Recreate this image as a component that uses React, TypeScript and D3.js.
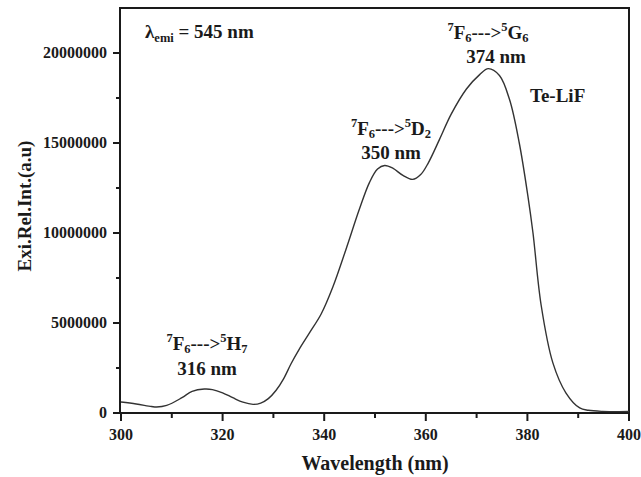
import React from "react";
import * as d3 from "d3";

// ---- data ----
const wavelength = [300, 303, 306, 307, 309, 312, 314, 316.4, 318, 320, 322, 324, 326, 327.5, 329, 330.5, 332, 333.5, 335.1, 337.1, 339.4, 341.7, 344.3, 346.9, 348.9, 350.5, 351.9, 353.5, 355.5, 357.4, 359, 360.5, 362.7, 365, 368, 370.6, 372.3, 374.5, 376.5, 378.4, 380.1, 381.1, 382.7, 385, 387.6, 390.3, 392, 394.8, 400];
const intensity = [0.61, 0.5, 0.36, 0.33, 0.42, 0.85, 1.2, 1.33, 1.3, 1.12, 0.85, 0.6, 0.48, 0.55, 0.8, 1.25, 1.9, 2.75, 3.55, 4.45, 5.5, 7.0, 9.1, 11.3, 12.8, 13.55, 13.75, 13.6, 13.2, 12.98, 13.25, 13.9, 15.2, 16.6, 18.0, 18.8, 19.13, 18.75, 17.4, 15.0, 12.05, 10.0, 6.0, 2.8, 1.11, 0.28, 0.15, 0.09, 0.08].map((v) => v * 1e6);

const xMajorTicks = [300, 320, 340, 360, 380, 400];
const xMinorTicks = [310, 330, 350, 370, 390];
const yMajorTicks = [0, 5000000, 10000000, 15000000, 20000000];
const yMinorTicks = [2500000, 7500000, 12500000, 17500000];

const peakLabels = ["316 nm", "350 nm", "374 nm"];
const upperLevels = [
  ["H", "7"],
  ["D", "2"],
  ["G", "6"],
];
const sampleName = "Te-LiF";
const xTitle = "Wavelength (nm)";
const yTitle = "Exi.Rel.Int.(a.u)";

// ---- layout ----
const W = 641;
const H = 477;
const L = 121;
const R = 629;
const T = 8;
const B = 413;
const FONT = "'Liberation Serif', 'Times New Roman', serif";
const INK = "#1a1a1a";

const annot = [
  { cx: 207, y1: 350, y2: 375 },
  { cx: 391, y1: 135, y2: 159 },
  { cx: 488, y1: 39, y2: 63, cx2: 496 },
];

export default function App() {
  const x = d3.scaleLinear().domain([300, 400]).range([L, R]);
  const y = d3.scaleLinear().domain([0, 22500000]).range([B, T]);
  const pts = wavelength.map((w, i) => [w, intensity[i]] as [number, number]);
  const line = d3
    .line<[number, number]>()
    .x((d) => x(d[0]))
    .y((d) => y(d[1]))
    .curve(d3.curveCatmullRom.alpha(0.5));

  const big = 19;
  const small = 12.5;

  return (
    <svg
      width={W}
      height={H}
      style={{ position: "absolute", left: 0, top: 0, background: "#fff" }}
      fontFamily={FONT}
      fontWeight="bold"
    >
      <rect x={0} y={0} width={W} height={H} fill="#fff" />
      {/* frame */}
      <line x1={L - 1} y1={T} x2={R + 1} y2={T} stroke={INK} strokeWidth={2} />
      <line x1={R} y1={T} x2={R} y2={B} stroke={INK} strokeWidth={2} />
      <line x1={L - 1} y1={T - 1} x2={L - 1} y2={B + 1} stroke={INK} strokeWidth={2} />
      <line x1={L - 2} y1={B} x2={R + 1} y2={B} stroke={INK} strokeWidth={2} />

      {/* x ticks */}
      {xMajorTicks.map((t) => (
        <g key={"xm" + t}>
          <line x1={x(t)} x2={x(t)} y1={B} y2={B + 8} stroke={INK} strokeWidth={2} />
          <text x={x(t)} y={440} textAnchor="middle" fontSize={16} fill={INK}>
            {t}
          </text>
        </g>
      ))}
      {xMinorTicks.map((t) => (
        <line key={"xn" + t} x1={x(t)} x2={x(t)} y1={B} y2={B + 5} stroke={INK} strokeWidth={2} />
      ))}

      {/* y ticks */}
      {yMajorTicks.map((t) => (
        <g key={"ym" + t}>
          <line x1={L - 8} x2={L} y1={y(t)} y2={y(t)} stroke={INK} strokeWidth={2} />
          <text x={107} y={y(t) + 5} textAnchor="end" fontSize={16} fill={INK}>
            {t}
          </text>
        </g>
      ))}
      {yMinorTicks.map((t) => (
        <line key={"yn" + t} x1={L - 5} x2={L} y1={y(t)} y2={y(t)} stroke={INK} strokeWidth={2} />
      ))}

      {/* curve */}
      <path d={line(pts) || ""} fill="none" stroke="#333" strokeWidth={1.4} />

      {/* axis titles */}
      <text x={(L + R) / 2} y={470} textAnchor="middle" fontSize={20} fill={INK}>
        {xTitle}
      </text>
      <text
        transform={`translate(31, 206) rotate(-90)`}
        textAnchor="middle"
        fontSize={19}
        fill={INK}
      >
        {yTitle}
      </text>

      {/* excitation wavelength */}
      <text x={145} y={38} fontSize={big} fill={INK}>
        λ<tspan fontSize={small} dy={4}>emi</tspan>
        <tspan dy={-4}> = 545 nm</tspan>
      </text>

      {/* sample */}
      <text x={530} y={102} fontSize={big} fill={INK}>
        {sampleName}
      </text>

      {/* transitions */}
      {annot.map((a, i) => (
        <g key={"an" + i}>
          <text x={a.cx} y={a.y1} textAnchor="middle" fontSize={big} fill={INK}>
            <tspan fontSize={small} dy={-8}>7</tspan>
            <tspan dy={8}>F</tspan>
            <tspan fontSize={small} dy={3}>6</tspan>
            <tspan dy={-3}>---&gt;</tspan>
            <tspan fontSize={small} dy={-8}>5</tspan>
            <tspan dy={8}>{upperLevels[i][0]}</tspan>
            <tspan fontSize={small} dy={3}>{upperLevels[i][1]}</tspan>
          </text>
          <text x={a.cx2 ?? a.cx} y={a.y2} textAnchor="middle" fontSize={big} fill={INK}>
            {peakLabels[i]}
          </text>
        </g>
      ))}
    </svg>
  );
}
